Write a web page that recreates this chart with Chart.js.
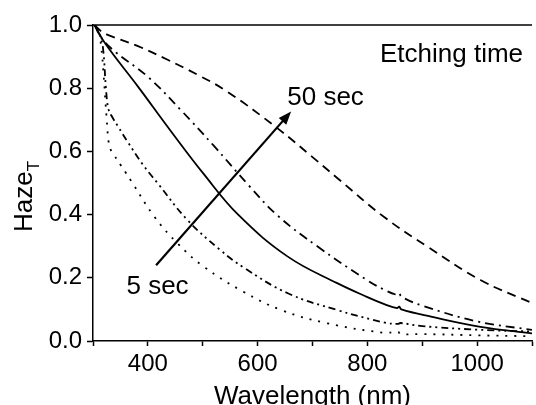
<!DOCTYPE html>
<html>
<head>
<meta charset="utf-8">
<title>Haze vs wavelength</title>
<script src="https://cdn.jsdelivr.net/npm/chart.js@4.4.1/dist/chart.umd.min.js"></script>
<style>
    html, body { margin: 0; padding: 0; background: #fff; }
    #wrap { width: 536px; height: 405px; }
</style>
</head>
<body>
<div id="wrap"><canvas id="hazeChart" width="536" height="405"></canvas></div>
<script>
// Haze_T spectra for the different etching times
const wl5 = [303, 310, 315, 319, 323, 325, 328, 331, 337, 351, 360, 370, 412, 454, 502, 574, 643, 727, 830, 856, 860, 900, 1000, 1100];
const haze5 = [1.0, 0.98, 0.93, 0.85, 0.75, 0.70, 0.636, 0.61, 0.592, 0.555, 0.532, 0.505, 0.393, 0.309, 0.235, 0.156, 0.098, 0.056, 0.026, 0.029, 0.022, 0.022, 0.018, 0.015];

const wl10 = [303, 312, 318, 324, 328, 334, 346, 364, 391, 418, 472, 532, 575, 655, 745, 832, 856, 860, 900, 1000, 1100];
const haze10 = [1.0, 0.97, 0.93, 0.79, 0.735, 0.712, 0.678, 0.628, 0.558, 0.499, 0.383, 0.288, 0.232, 0.151, 0.098, 0.058, 0.054, 0.057, 0.047, 0.036, 0.03];

const wl30 = [303, 322, 382, 442, 502, 565, 655, 745, 800, 832, 854, 858, 862, 916, 1006, 1100];
const haze30 = [1.0, 0.942, 0.805, 0.664, 0.528, 0.399, 0.267, 0.183, 0.139, 0.116, 0.104, 0.109, 0.1, 0.077, 0.045, 0.024];

const wl40 = [303, 315, 340, 400, 460, 520, 584, 637, 710, 800, 830, 854, 858, 862, 900, 1000, 1100];
const haze40 = [1.0, 0.96, 0.916, 0.836, 0.731, 0.618, 0.492, 0.396, 0.298, 0.192, 0.163, 0.146, 0.151, 0.14, 0.112, 0.062, 0.035];

const wl50 = [303, 315, 328, 382, 436, 490, 544, 637, 700, 745, 830, 910, 1006, 1100];
const haze50 = [1.0, 0.98, 0.968, 0.933, 0.89, 0.843, 0.79, 0.672, 0.582, 0.516, 0.393, 0.298, 0.193, 0.12];

const FONT = '"Liberation Sans", Arial, sans-serif';
Chart.defaults.font.family = FONT;
Chart.defaults.color = '#000';

function pairs(xs, ys) {
    return xs.map((x, i) => ({ x: x, y: ys[i] }));
}

const series = [
    { label: '5 sec', wl: wl5, haze: haze5, dash: [2, 7] },
    { label: '10 sec', wl: wl10, haze: haze10, dash: [7, 4, 2, 4, 2, 4] },
    { label: '30 sec', wl: wl30, haze: haze30, dash: [] },
    { label: '40 sec', wl: wl40, haze: haze40, dash: [9, 5, 2, 5] },
    { label: '50 sec', wl: wl50, haze: haze50, dash: [9, 6] }
];

// arrow and text annotations, in data units
const arrowFrom = [415, 0.24];
const arrowTo = [661, 0.726];
const notes = [
    { text: 'Etching time', wl: 823, haze: 0.884 },
    { text: '50 sec', wl: 654, haze: 0.747 },
    { text: '5 sec', wl: 361, haze: 0.148 }
];

const annotate = {
    id: 'annotate',
    afterDraw(chart) {
        const { ctx, chartArea } = chart;
        const x = chart.scales.x, y = chart.scales.y;
        ctx.save();

        // top frame line
        ctx.strokeStyle = '#000';
        ctx.lineWidth = 1.5;
        ctx.beginPath();
        ctx.moveTo(chartArea.left, chartArea.top);
        ctx.lineTo(chartArea.right, chartArea.top);
        ctx.stroke();

        // arrow from 5 sec to 50 sec
        const x0 = x.getPixelForValue(arrowFrom[0]), y0 = y.getPixelForValue(arrowFrom[1]);
        const x1 = x.getPixelForValue(arrowTo[0]), y1 = y.getPixelForValue(arrowTo[1]);
        const ang = Math.atan2(y1 - y0, x1 - x0);
        const headLen = 13, headHalf = 5;
        ctx.lineWidth = 2.2;
        ctx.beginPath();
        ctx.moveTo(x0, y0);
        ctx.lineTo(x1 - Math.cos(ang) * headLen * 0.8, y1 - Math.sin(ang) * headLen * 0.8);
        ctx.stroke();
        ctx.fillStyle = '#000';
        ctx.beginPath();
        ctx.moveTo(x1, y1);
        ctx.lineTo(x1 - Math.cos(ang) * headLen - Math.sin(ang) * headHalf, y1 - Math.sin(ang) * headLen + Math.cos(ang) * headHalf);
        ctx.lineTo(x1 - Math.cos(ang) * headLen + Math.sin(ang) * headHalf, y1 - Math.sin(ang) * headLen - Math.cos(ang) * headHalf);
        ctx.closePath();
        ctx.fill();

        // labels inside the plot
        ctx.font = '26px ' + FONT;
        ctx.textBaseline = 'alphabetic';
        ctx.textAlign = 'left';
        notes.forEach(n => {
            ctx.fillText(n.text, x.getPixelForValue(n.wl), y.getPixelForValue(n.haze));
        });

        // x axis title
        ctx.textAlign = 'center';
        ctx.fillText('Wavelength (nm)', (chartArea.left + chartArea.right) / 2, 404);

        // y axis title with subscript T
        ctx.translate(32, 232);
        ctx.rotate(-Math.PI / 2);
        ctx.textAlign = 'left';
        ctx.fillText('Haze', 0, 0);
        const w = ctx.measureText('Haze').width;
        ctx.font = '17px ' + FONT;
        ctx.fillText('T', w, 7);

        ctx.restore();
    }
};

new Chart(document.getElementById('hazeChart'), {
    type: 'line',
    data: {
        datasets: series.map(s => ({
            label: s.label,
            data: pairs(s.wl, s.haze),
            borderColor: '#000',
            borderWidth: 1.8,
            borderDash: s.dash,
            pointRadius: 0,
            fill: false,
            tension: 0.4
        }))
    },
    options: {
        responsive: false,
        animation: false,
        layout: { padding: { top: 25, right: 0, left: 0, bottom: 0 } },
        plugins: {
            legend: { display: false },
            tooltip: { enabled: false }
        },
        scales: {
            x: {
                type: 'linear',
                min: 300,
                max: 1100,
                afterFit: s => { s.height = 64; },
                border: { color: '#000', width: 1.5 },
                grid: { drawOnChartArea: false, tickLength: 5, tickColor: '#000', tickWidth: 1.5 },
                ticks: {
                    stepSize: 100,
                    autoSkip: false,
                    maxRotation: 0,
                    padding: 4,
                    font: { size: 24 },
                    callback: v => (v % 200 === 0 && v >= 400 && v <= 1000) ? String(v) : ''
                }
            },
            y: {
                min: 0,
                max: 1,
                afterFit: s => { s.width = 93; },
                border: { color: '#000', width: 1.5 },
                grid: { drawOnChartArea: false, tickLength: 6, tickColor: '#000', tickWidth: 1.5 },
                ticks: {
                    stepSize: 0.1,
                    padding: 5,
                    font: { size: 24 },
                    callback: (v, i) => i % 2 === 0 ? v.toFixed(1) : ''
                }
            }
        }
    },
    plugins: [annotate]
});
</script>
</body>
</html>
